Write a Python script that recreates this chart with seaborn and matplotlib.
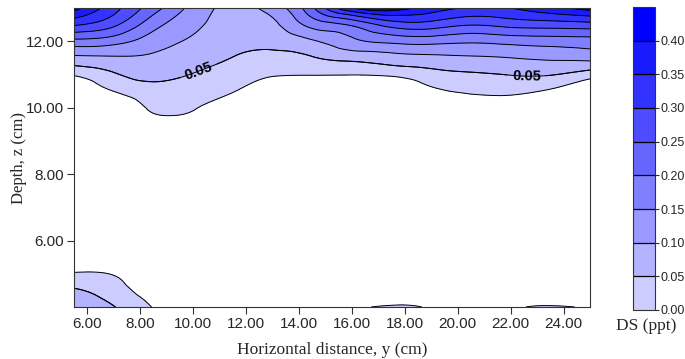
import numpy as np
import matplotlib
matplotlib.use("Agg")
import matplotlib.pyplot as plt
import matplotlib.tri as mtri
from matplotlib import font_manager
from matplotlib.ticker import FormatStrFormatter
import seaborn as sns

# ---------------- data ----------------
# horizontal distance y (cm) of the grid columns
y_cm = [5.5, 7.0, 8.5, 10.0, 11.5, 13.0, 14.5, 16.0, 17.5, 19.0, 20.5, 22.0, 23.5, 25.0]
# depth z (cm) of the grid rows (bottom to top)
z_cm = [4.0, 4.5, 5.0, 5.5, 6.5, 8.0, 9.5, 10.0, 10.5, 11.0, 11.5, 12.0, 12.5, 13.0]

# DS (ppt) values, one list per depth row
ds_z4_0 = [0.078, 0.052, -0.003, -0.05, -0.05, -0.05, -0.02, -0.004, 0.004, -0.004, -0.02, -0.006, 0.003, -0.003]
ds_z4_5 = [0.054, 0.026, -0.03, -0.05, -0.05, -0.05, -0.05, -0.03, -0.03, -0.03, -0.05, -0.03, -0.03, -0.03]
ds_z5_0 = [0.006, -0.004, -0.05, -0.05, -0.05, -0.05, -0.05, -0.05, -0.05, -0.05, -0.05, -0.05, -0.05, -0.05]
ds_z5_5 = [-0.05, -0.05, -0.05, -0.05, -0.05, -0.05, -0.05, -0.05, -0.05, -0.05, -0.05, -0.05, -0.05, -0.05]
ds_z6_5 = [-0.05, -0.05, -0.05, -0.05, -0.05, -0.05, -0.05, -0.05, -0.05, -0.05, -0.05, -0.05, -0.05, -0.05]
ds_z8_0 = [-0.05, -0.05, -0.05, -0.05, -0.05, -0.05, -0.05, -0.05, -0.05, -0.05, -0.05, -0.05, -0.05, -0.05]
ds_z9_5 = [-0.05, -0.05, -0.02, -0.025, -0.05, -0.05, -0.05, -0.05, -0.05, -0.05, -0.05, -0.05, -0.05, -0.05]
ds_z10_0 = [-0.05, -0.05, 0.010, 0.006, -0.04, -0.05, -0.05, -0.05, -0.05, -0.05, -0.03, -0.03, -0.05, -0.05]
ds_z10_5 = [-0.06, 0.001, 0.034, 0.025, 0.004, -0.05, -0.05, -0.05, -0.05, -0.012, 0.007, 0.010, -0.007, -0.05]
ds_z11_0 = [0.006, 0.045, 0.062, 0.048, 0.026, 0.007, 0.003, 0.002, 0.009, 0.032, 0.044, 0.052, 0.053, 0.025]
ds_z11_5 = [0.088, 0.094, 0.090, 0.069, 0.049, 0.037, 0.047, 0.065, 0.079, 0.088, 0.094, 0.100, 0.108, 0.115]
ds_z12_0 = [0.185, 0.170, 0.125, 0.091, 0.062, 0.064, 0.094, 0.138, 0.162, 0.168, 0.158, 0.167, 0.174, 0.179]
ds_z12_5 = [0.307, 0.261, 0.169, 0.112, 0.075, 0.088, 0.167, 0.208, 0.271, 0.278, 0.253, 0.267, 0.274, 0.281]
ds_z13_0 = [0.420, 0.318, 0.222, 0.133, 0.088, 0.121, 0.240, 0.400, 0.430, 0.378, 0.345, 0.350, 0.385, 0.420]

ds_rows = [ds_z4_0, ds_z4_5, ds_z5_0, ds_z5_5, ds_z6_5, ds_z8_0, ds_z9_5,
           ds_z10_0, ds_z10_5, ds_z11_0, ds_z11_5, ds_z12_0, ds_z12_5, ds_z13_0]

levels = [0.00, 0.05, 0.10, 0.15, 0.20, 0.25, 0.30, 0.35, 0.40, 0.45]
x_ticks = [6, 8, 10, 12, 14, 16, 18, 20, 22, 24]
z_ticks = [6, 8, 10, 12]
band_colors = ["#ccccff", "#b3b3ff", "#9999ff", "#8080ff", "#6666ff",
               "#4d4dff", "#3333ff", "#1a1aff", "#0000ff"]

# ---------------- style ----------------
sns.set_style("ticks")
names = {f.name for f in font_manager.fontManager.ttflist}
narrow = "Liberation Sans Narrow" if "Liberation Sans Narrow" in names else "Liberation Sans"
plt.rcParams["font.family"] = [narrow, "DejaVu Sans"]
serif = ["Liberation Serif", "DejaVu Serif"]

W, H = 685, 359
fig = plt.figure(figsize=(W / 100, H / 100), dpi=100)
ax = fig.add_axes([74 / W, 1 - 307 / H, (590 - 74) / W, (307 - 8) / H])
cax = fig.add_axes([633 / W, 1 - 310 / H, 22 / W, (310 - 7) / H])

# ---------------- contour field ----------------
Y, Z = np.meshgrid(y_cm, z_cm)
DS = np.array(ds_rows, dtype=float)
nx, nz = len(y_cm), len(z_cm)
tris = []
for j in range(nz - 1):
    for i in range(nx - 1):
        a = j * nx + i
        b, c = a + 1, a + nx
        d = c + 1
        tris.append([a, b, d])
        tris.append([a, d, c])
tri = mtri.Triangulation(Y.ravel(), Z.ravel(), np.array(tris))
tri_f, ds_f = mtri.UniformTriRefiner(tri).refine_field(DS.ravel(), subdiv=3)

cf = ax.tricontourf(tri_f, ds_f, levels=levels, colors=band_colors)
cl = ax.tricontour(tri_f, ds_f, levels=levels[:-1], colors="black", linewidths=0.7)
cl05 = ax.tricontour(tri_f, ds_f, levels=[0.05], colors="black", linewidths=0.7)
labels = ax.clabel(cl05, manual=[(10.2, 11.14), (22.6, 10.98)], inline=True,
                   fmt="%.2f", fontsize=10.5)
for t in labels:
    t.set_fontweight("bold")

ax.set_xlim(5.5, 25)
ax.set_ylim(4, 13)
ax.set_xticks(x_ticks)
ax.set_yticks(z_ticks)
ax.xaxis.set_major_formatter(FormatStrFormatter("%.2f"))
ax.yaxis.set_major_formatter(FormatStrFormatter("%.2f"))
ax.tick_params(axis="both", direction="out", length=5, width=0.8, labelsize=11,
               color="#333333", pad=2)
for s in ax.spines.values():
    s.set_linewidth(0.8)
    s.set_color("#333333")

ax.set_xlabel("Horizontal distance, y (cm)", fontfamily=serif, fontsize=12.5, labelpad=8)
ax.set_ylabel("Depth, z (cm)", fontfamily=serif, fontsize=12)
ax.yaxis.set_label_coords(-0.092, 0.5)

# ---------------- colorbar ----------------
cb = fig.colorbar(cf, cax=cax, ticks=levels[:-1], drawedges=True)
cb.outline.set_linewidth(0.8)
cb.outline.set_edgecolor("#333333")
cb.dividers.set_color("black")
cb.dividers.set_linewidth(0.9)
cax.yaxis.set_major_formatter(FormatStrFormatter("%.2f"))
cax.tick_params(direction="out", length=3, width=0.8, labelsize=9, pad=1, color="#333333")
for t in cax.get_yticklabels():
    t.set_fontfamily(["Liberation Sans", "DejaVu Sans"])
fig.text(646 / W, 1 - 326 / H, "DS (ppt)", fontfamily=serif, fontsize=12.5,
         ha="center", va="center")

fig.savefig("out.png", dpi=100)
